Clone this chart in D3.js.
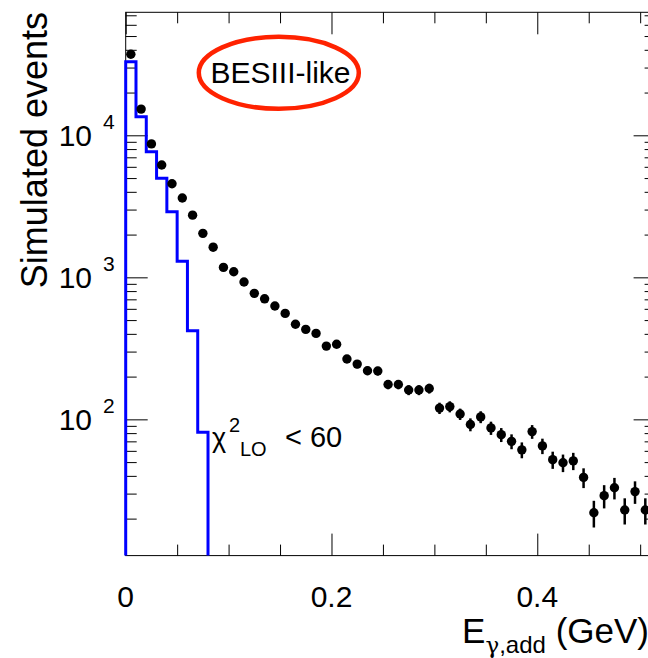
<!DOCTYPE html>
<html><head><meta charset="utf-8">
<script src="https://cdn.jsdelivr.net/npm/d3@7"></script>
<style>
body{margin:0;background:#fff}
svg{display:block}
text{font-family:"Liberation Sans",Arial,Helvetica,sans-serif;fill:#000}
</style>
</head><body>
<svg id="c" width="648" height="658"></svg>
<script>
// ---- data ----
const binCenters = [0.005,0.015,0.025,0.035,0.045,0.055,0.065,0.075,0.085,0.095,
  0.105,0.115,0.125,0.135,0.145,0.155,0.165,0.175,0.185,0.195,
  0.205,0.215,0.225,0.235,0.245,0.255,0.265,0.275,0.285,0.295,
  0.305,0.315,0.325,0.335,0.345,0.355,0.365,0.375,0.385,0.395,
  0.405,0.415,0.425,0.435,0.445,0.455,0.465,0.475,0.485,0.495,0.505];
const dataValues = [37200,15300,8700,6180,4560,3620,2740,2040,1630,1175,
  1095,927,771,706,628,557,467,430,403,328,
  338,266,245,220,219,176,176,161,161,165,
  120,123,109,92,104,87,78,70,61,82,
  65,52,49.5,51,39,22,29,33,23,31,23];
const dataErrors = [193,124,93,79,68,60,52,45,40,34,
  33,30,28,27,25,24,22,21,20,18,
  18,16,16,15,15,13,13,13,13,13,
  11,11,10,9.6,10,9.3,8.8,8.4,7.8,9.1,
  8.1,7.2,7.0,7.1,6.2,4.7,5.4,5.7,4.8,5.6,4.8];
const histEdges = [0,0.01,0.02,0.03,0.04,0.05,0.06,0.07,0.08];
const histValues = [33000,13500,7660,4980,2900,1300,420,81];

const xMajorTicks = [0,0.2,0.4];
const xTickLabels = ["0","0.2","0.4"];
const xMinorTicks = [0.05,0.1,0.15,0.25,0.3,0.35,0.45,0.5];
const yMajorTicks = [100,1000,10000];
const yTickExponents = ["2","3","4"];
const yMinorTicks = [20,30,40,50,60,70,80,90,200,300,400,500,600,700,800,900,
  2000,3000,4000,5000,6000,7000,8000,9000,20000,30000,40000,50000,60000,70000];

// ---- layout ----
const frame = {left:125.7, right:655.6, top:12.3, bottom:555.6};
const svg = d3.select("#c");
const x = d3.scaleLinear().domain([0,0.515]).range([frame.left, frame.right]);
const y = d3.scaleLog().domain([10.98,73480]).range([frame.bottom, frame.top]);

function clean(sel){
  sel.select(".domain").remove();
  sel.selectAll("text").remove();
  sel.selectAll("line").attr("stroke","#000").attr("stroke-width",1);
}
const axes = svg.append("g");
axes.append("g").attr("transform",`translate(0,${frame.bottom})`)
  .call(d3.axisTop(x).tickValues(xMajorTicks).tickSize(22).tickSizeOuter(0).tickFormat("")).call(clean);
axes.append("g").attr("transform",`translate(0,${frame.bottom})`)
  .call(d3.axisTop(x).tickValues(xMinorTicks).tickSize(11).tickSizeOuter(0).tickFormat("")).call(clean);
axes.append("g").attr("transform",`translate(0,${frame.top})`)
  .call(d3.axisBottom(x).tickValues(xMajorTicks).tickSize(22).tickSizeOuter(0).tickFormat("")).call(clean);
axes.append("g").attr("transform",`translate(0,${frame.top})`)
  .call(d3.axisBottom(x).tickValues(xMinorTicks).tickSize(11).tickSizeOuter(0).tickFormat("")).call(clean);
axes.append("g").attr("transform",`translate(${frame.left},0)`)
  .call(d3.axisRight(y).tickValues(yMajorTicks).tickSize(22).tickSizeOuter(0).tickFormat("")).call(clean);
axes.append("g").attr("transform",`translate(${frame.left},0)`)
  .call(d3.axisRight(y).tickValues(yMinorTicks).tickSize(11).tickSizeOuter(0).tickFormat("")).call(clean);
axes.append("g").attr("transform",`translate(${frame.right},0)`)
  .call(d3.axisLeft(y).tickValues(yMajorTicks).tickSize(22).tickSizeOuter(0).tickFormat("")).call(clean);
axes.append("g").attr("transform",`translate(${frame.right},0)`)
  .call(d3.axisLeft(y).tickValues(yMinorTicks).tickSize(11).tickSizeOuter(0).tickFormat("")).call(clean);

svg.append("rect").attr("x",frame.left).attr("y",frame.top)
  .attr("width",frame.right-frame.left).attr("height",frame.bottom-frame.top)
  .attr("fill","none").attr("stroke","#000").attr("stroke-width",1);

// tick labels
svg.selectAll("text.xl").data(xMajorTicks).enter().append("text").attr("class","xl")
  .attr("x",d=>x(d)).attr("y",607).attr("text-anchor","middle").attr("font-size",30)
  .text((d,i)=>xTickLabels[i]);
svg.selectAll("text.yl").data(yMajorTicks).enter().append("text").attr("class","yl")
  .attr("x",92).attr("y",d=>y(d)+11).attr("text-anchor","end").attr("font-size",30).text("10");
svg.selectAll("text.ye").data(yMajorTicks).enter().append("text").attr("class","ye")
  .attr("x",103).attr("y",d=>y(d)-6).attr("font-size",21).text((d,i)=>yTickExponents[i]);

// axis titles
svg.append("text").attr("transform","translate(47,12) rotate(-90)")
  .attr("text-anchor","end").attr("font-size",36).text("Simulated events");
const xt = svg.append("text").attr("x",649).attr("y",643).attr("text-anchor","end").attr("font-size",35);
xt.append("tspan").text("E");
xt.append("tspan").attr("font-size",23).attr("dy",10).attr("font-family","'DejaVu Serif',serif").text("\u03b3");
xt.append("tspan").attr("font-size",24).text(",add");
xt.append("tspan").attr("dy",-10).text(" (GeV)");

// blue histogram
svg.append("clipPath").attr("id","fr").append("rect")
  .attr("x",frame.left-3).attr("y",frame.top).attr("width",frame.right-frame.left+3).attr("height",frame.bottom-frame.top);
const pts = [[histEdges[0], null]];
histValues.forEach((v,i)=>{ pts.push([histEdges[i],v]); pts.push([histEdges[i+1],v]); });
pts.push([histEdges[histEdges.length-1], null]);
const line = d3.line().x(d=>x(d[0])).y(d=>d[1]===null?frame.bottom:y(d[1]));
svg.append("path").attr("d",line(pts)).attr("fill","none").attr("stroke","#0000ff")
  .attr("stroke-width",3).attr("stroke-linejoin","miter");

// data points
const dg = svg.append("g").attr("clip-path","url(#fr)");
dg.selectAll("line.err").data(dataValues).enter().append("line").attr("class","err")
  .attr("x1",(d,i)=>x(binCenters[i])).attr("x2",(d,i)=>x(binCenters[i]))
  .attr("y1",(d,i)=>y(d+dataErrors[i])).attr("y2",(d,i)=>y(Math.max(d-dataErrors[i],1)))
  .attr("stroke","#000").attr("stroke-width",2.5);
dg.selectAll("circle").data(dataValues).enter().append("circle")
  .attr("cx",(d,i)=>x(binCenters[i])).attr("cy",d=>y(d)).attr("r",4.7).attr("fill","#000");

// annotations
svg.append("ellipse").attr("cx",278.8).attr("cy",72.8).attr("rx",80).attr("ry",36)
  .attr("fill","none").attr("stroke","#ff2200").attr("stroke-width",4.5);
svg.append("text").attr("x",280.5).attr("y",83.3).attr("text-anchor","middle").attr("font-size",30).text("BESIII-like");

const ct = svg.append("g");
ct.append("text").attr("x",212).attr("y",446.7).attr("font-size",27)
  .attr("font-family","'DejaVu Serif',serif").text("\u03c7");
ct.append("text").attr("x",229).attr("y",431.7).attr("font-size",20).text("2");
ct.append("text").attr("x",240).attr("y",456).attr("font-size",20).text("LO");
ct.append("text").attr("x",285).attr("y",446.7).attr("font-size",29).text("< 60");
</script>
</body></html>
